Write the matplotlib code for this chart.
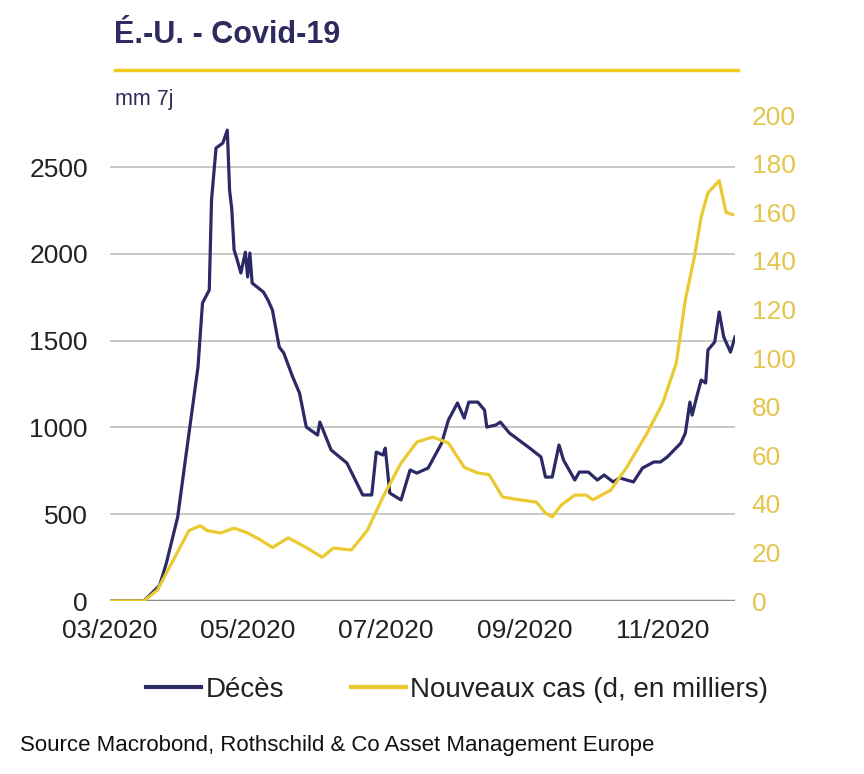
import pandas as pd
import matplotlib
matplotlib.use("Agg")
import matplotlib.pyplot as plt
from matplotlib.lines import Line2D

# ---- data (7-day moving averages) ----
deaths_dates = [
    "2020-03-01", "2020-03-16", "2020-03-23", "2020-03-26", "2020-03-31", "2020-04-04",
    "2020-04-09", "2020-04-11", "2020-04-14", "2020-04-15", "2020-04-17", "2020-04-20",
    "2020-04-22", "2020-04-23", "2020-04-24", "2020-04-25", "2020-04-26", "2020-04-28",
    "2020-04-30", "2020-05-01", "2020-05-02", "2020-05-03", "2020-05-08", "2020-05-10",
    "2020-05-12", "2020-05-15", "2020-05-17", "2020-05-21", "2020-05-24", "2020-05-27",
    "2020-06-01", "2020-06-02", "2020-06-07", "2020-06-14", "2020-06-21", "2020-06-25",
    "2020-06-27", "2020-06-30", "2020-07-01", "2020-07-03", "2020-07-08", "2020-07-12",
    "2020-07-15", "2020-07-20", "2020-07-26", "2020-07-29", "2020-08-02", "2020-08-05",
    "2020-08-07", "2020-08-11", "2020-08-14", "2020-08-15", "2020-08-19", "2020-08-21",
    "2020-08-25", "2020-09-03", "2020-09-08", "2020-09-10", "2020-09-13", "2020-09-16",
    "2020-09-18", "2020-09-23", "2020-09-25", "2020-09-29", "2020-10-03", "2020-10-06",
    "2020-10-10", "2020-10-13", "2020-10-16", "2020-10-19", "2020-10-23", "2020-10-28",
    "2020-10-31", "2020-11-03", "2020-11-09", "2020-11-11", "2020-11-13", "2020-11-14",
    "2020-11-16", "2020-11-18", "2020-11-20", "2020-11-21", "2020-11-24", "2020-11-26",
    "2020-11-28", "2020-12-01", "2020-12-03",
]
deaths = [
    0, 0, 90, 219, 484, 870,
    1348, 1717, 1792, 2310, 2610, 2638,
    2713, 2368, 2253, 2022, 1982, 1890,
    2010, 1867, 2005, 1832, 1780, 1734,
    1676, 1463, 1429, 1290, 1198, 1002,
    956, 1031, 870, 795, 611, 611,
    858, 841, 881, 622, 582, 755,
    737, 766, 910, 1043, 1141, 1054,
    1146, 1146, 1100, 1002, 1014, 1031,
    968, 881, 830, 714, 714, 899,
    812, 697, 743, 743, 697, 726,
    686, 709, 697, 686, 766, 801,
    801, 830, 910, 968, 1146, 1071,
    1175, 1273, 1256, 1446, 1492, 1665,
    1521, 1434, 1521,
]

cases_dates = [
    "2020-03-01", "2020-03-16", "2020-03-22", "2020-03-26", "2020-04-01", "2020-04-05",
    "2020-04-10", "2020-04-13", "2020-04-19", "2020-04-25", "2020-05-01", "2020-05-07",
    "2020-05-12", "2020-05-19", "2020-05-23", "2020-05-27", "2020-06-03", "2020-06-08",
    "2020-06-16", "2020-06-23", "2020-06-30", "2020-07-08", "2020-07-15", "2020-07-22",
    "2020-07-29", "2020-08-05", "2020-08-11", "2020-08-16", "2020-08-22", "2020-08-30",
    "2020-09-06", "2020-09-10", "2020-09-13", "2020-09-17", "2020-09-23", "2020-09-28",
    "2020-10-01", "2020-10-09", "2020-10-16", "2020-10-25", "2020-11-01", "2020-11-07",
    "2020-11-11", "2020-11-15", "2020-11-18", "2020-11-21", "2020-11-24", "2020-11-26",
    "2020-11-29", "2020-12-02",
]
cases = [
    0, 0, 4.5, 11.5, 22, 29,
    31, 29, 28, 30, 28, 25,
    22, 26, 24, 22, 18, 21.8,
    21, 29, 42.8, 56.8, 65.4, 67.5,
    65, 55, 52.7, 52, 42.8, 41.6,
    40.7, 36.2, 34.6, 39.5, 43.6, 43.6,
    41.6, 45.7, 55, 69, 81.5, 98,
    124, 141.6, 158, 168, 171, 173,
    160, 159,
]

left_ticks = [0, 500, 1000, 1500, 2000, 2500]
right_ticks = list(range(0, 201, 20))
month_ticks = ["2020-03-01", "2020-05-01", "2020-07-01", "2020-09-01", "2020-11-01"]

# ---- style ----
navy = "#2B2966"
yellow = "#EBC930"
grid_grey = "#C4C4C4"
plt.rcParams["font.family"] = ["Liberation Sans", "DejaVu Sans"]

d_dates = pd.to_datetime(deaths_dates)
c_dates = pd.to_datetime(cases_dates)

fig = plt.figure(figsize=(8.64, 7.74), dpi=100)
ax = fig.add_axes([0.1273, 0.2235, 0.7234, 0.6279])
ax2 = ax.twinx()

ax.plot(d_dates, deaths, color=navy, lw=2.3)
ax2.plot(c_dates, cases, color=yellow, lw=2.3)

ax.set_xlim(pd.Timestamp("2020-03-01"), pd.Timestamp("2020-12-03"))
ax.set_ylim(0, 2800)
ax2.set_ylim(0, 200)
ax.set_yticks(left_ticks)
ax2.set_yticks(right_ticks)
ax.set_xticks(pd.to_datetime(month_ticks))
ax.set_xticklabels([pd.Timestamp(m).strftime("%m/%Y") for m in month_ticks])

for a in (ax, ax2):
    for s in a.spines.values():
        s.set_visible(False)
ax.grid(axis="y", color=grid_grey, lw=1.3)
ax.set_axisbelow(True)
ax.axhline(0, color="#8C8C8C", lw=2.5, zorder=1)

ax.tick_params(axis="y", length=0, pad=16, labelsize=19, labelcolor="#222222")
ax.tick_params(axis="x", length=0, pad=13, labelsize=19, labelcolor="#222222")
ax2.tick_params(axis="y", length=0, pad=12, labelsize=19, labelcolor="#E3C54E")

# ---- header ----
fig.text(114 / 864, 1 - 35 / 774, "É.-U. - Covid-19", fontsize=22, fontweight="bold",
         color="#2D2B5E", va="center", ha="left")
fig.add_artist(Line2D([115 / 864, 738 / 864], [1 - 70 / 774, 1 - 70 / 774],
                      color="#F0CB1E", lw=2.5, transform=fig.transFigure))
fig.text(115 / 864, 1 - 100 / 774, "mm 7j", fontsize=15.5, color="#2D2B5E",
         va="center", ha="left")

# ---- legend ----
handles = [Line2D([], [], color=navy, lw=3), Line2D([], [], color=yellow, lw=3)]
fig.legend(handles, ["Décès", "Nouveaux cas (d, en milliers)"], loc="center",
           bbox_to_anchor=(457 / 864, 1 - 690 / 774), ncol=2, frameon=False,
           fontsize=20, handlelength=2.0, handletextpad=0.15, columnspacing=2.4,
           labelcolor="#222222")

fig.text(20 / 864, 1 - 746 / 774,
         "Source Macrobond, Rothschild & Co Asset Management Europe",
         fontsize=16, color="#111111", va="center", ha="left")

fig.savefig("out.png", dpi=100)
